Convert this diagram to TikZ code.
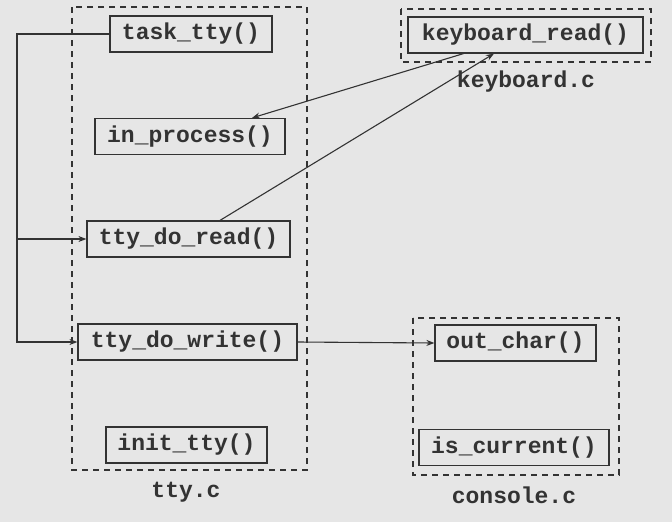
\documentclass[tikz,border=0pt]{standalone}
\usepackage{fontspec}
\setmonofont{Liberation Mono}
\usetikzlibrary{arrows.meta}
\definecolor{paper}{HTML}{E6E6E6}
\definecolor{ink}{HTML}{333333}
\tikzset{
  func/.style={draw=ink, line width=1.2pt, rectangle, minimum height=36pt, inner sep=0pt,
    font=\fontsize{23}{26}\selectfont\ttfamily\bfseries, text=ink},
  file/.style={draw=ink, line width=1.6pt, dash pattern=on 6pt off 5pt},
  filename/.style={font=\fontsize{23}{26}\selectfont\ttfamily\bfseries, text=ink},
  call/.style={draw=ink, line width=1.1pt, -{Stealth[length=8pt,width=6pt]}}
}
\begin{document}
\begin{tikzpicture}[x=1pt, y=-1pt]
        % Paper
        \fill[paper] (0,0) rectangle (672,522);
        \useasboundingbox (0,0) rectangle (672,522);

        % Source files
        \draw[file] (72,7) rectangle (307,470);
        \node[filename] (ttyc) at (186,492) {tty.c};
        \draw[file] (401,9) rectangle (651,62);
        \node[filename] (kbdc) at (526,82) {keyboard.c};
        \draw[file] (413,318) rectangle (619,475);
        \node[filename] (consc) at (514,495) {console.c};

        % Functions in tty.c
        \node[func, minimum width=162pt] (task_tty) at (191,34) {task\_tty()};
        \node[func, minimum width=190pt] (in_process) at (190,136.5) {in\_process()};
        \node[func, minimum width=203pt] (tty_do_read) at (188.5,239) {tty\_do\_read()};
        \node[func, minimum width=219pt] (tty_do_write) at (187.5,342) {tty\_do\_write()};
        \node[func, minimum width=161pt] (init_tty) at (186.5,445) {init\_tty()};

        % Functions in keyboard.c and console.c
        \node[func, minimum width=235pt] (keyboard_read) at (525.5,35) {keyboard\_read()};
        \node[func, minimum width=161pt] (out_char) at (515.5,343) {out\_char()};
        \node[func, minimum width=190pt] (is_current) at (514,447.5) {is\_current()};

        % Calls from task_tty
        \coordinate (bus) at (17,34);
        \draw[call] (task_tty.west) -- (bus) |- (tty_do_write.west);
        \draw[call] (bus |- tty_do_read.west) -- (tty_do_read.west);

        % Keyboard
        \draw[call] ([xshift=31.5pt]tty_do_read.north) -- ([xshift=-31.5pt]keyboard_read.south);
        \draw[call] ([xshift=-62pt]keyboard_read.south) -- ([xshift=62pt]in_process.north);

        % Console
        \draw[call] (tty_do_write.east) -- (out_char.west);
    \end{tikzpicture}
\end{document}
